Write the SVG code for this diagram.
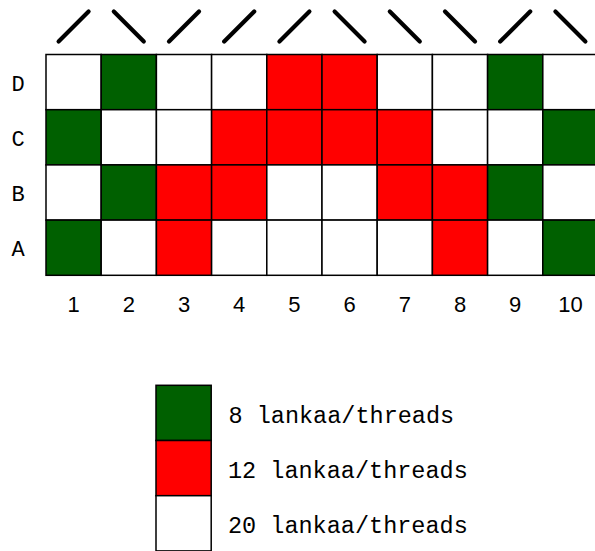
<svg xmlns="http://www.w3.org/2000/svg" width="595" height="551" viewBox="0 0 595 551">
<style>
.c{stroke:#000;stroke-width:1.5}
.w{fill:#fff}.g{fill:#006000}.r{fill:#ff0000}
.s{stroke:#000;stroke-width:4.2;stroke-linecap:round;fill:none}
.lbl{font-family:"Liberation Mono","DejaVu Sans Mono",monospace;font-size:22px;text-anchor:middle;fill:#000}
.num{font-family:"Liberation Sans","DejaVu Sans",sans-serif;font-size:22px;text-anchor:middle;fill:#000}
.leg{font-family:"Liberation Mono","DejaVu Sans Mono",monospace;font-size:23.5px;fill:#000}
</style>
<rect width="595" height="551" fill="#fff"/>
<g id="slashes">
<path class="s" d="M58.6,41.5L88.6,11.5"/>
<path class="s" d="M113.8,11.5L143.8,41.5"/>
<path class="s" d="M169,41.5L199,11.5"/>
<path class="s" d="M224.2,41.5L254.2,11.5"/>
<path class="s" d="M279.4,41.5L309.4,11.5"/>
<path class="s" d="M334.6,11.5L364.6,41.5"/>
<path class="s" d="M389.8,11.5L419.8,41.5"/>
<path class="s" d="M445,11.5L475,41.5"/>
<path class="s" d="M500.2,41.5L530.2,11.5"/>
<path class="s" d="M555.4,11.5L585.4,41.5"/>
</g>
<g id="rowD">
<rect class="c w" x="46" y="54.5" width="55.2" height="55.2"/>
<rect class="c g" x="101.2" y="54.5" width="55.2" height="55.2"/>
<rect class="c w" x="156.4" y="54.5" width="55.2" height="55.2"/>
<rect class="c w" x="211.6" y="54.5" width="55.2" height="55.2"/>
<rect class="c r" x="266.8" y="54.5" width="55.2" height="55.2"/>
<rect class="c r" x="322" y="54.5" width="55.2" height="55.2"/>
<rect class="c w" x="377.2" y="54.5" width="55.2" height="55.2"/>
<rect class="c w" x="432.4" y="54.5" width="55.2" height="55.2"/>
<rect class="c g" x="487.6" y="54.5" width="55.2" height="55.2"/>
<rect class="c w" x="542.8" y="54.5" width="55.2" height="55.2"/>
</g>
<g id="rowC">
<rect class="c g" x="46" y="109.7" width="55.2" height="55.2"/>
<rect class="c w" x="101.2" y="109.7" width="55.2" height="55.2"/>
<rect class="c w" x="156.4" y="109.7" width="55.2" height="55.2"/>
<rect class="c r" x="211.6" y="109.7" width="55.2" height="55.2"/>
<rect class="c r" x="266.8" y="109.7" width="55.2" height="55.2"/>
<rect class="c r" x="322" y="109.7" width="55.2" height="55.2"/>
<rect class="c r" x="377.2" y="109.7" width="55.2" height="55.2"/>
<rect class="c w" x="432.4" y="109.7" width="55.2" height="55.2"/>
<rect class="c w" x="487.6" y="109.7" width="55.2" height="55.2"/>
<rect class="c g" x="542.8" y="109.7" width="55.2" height="55.2"/>
</g>
<g id="rowB">
<rect class="c w" x="46" y="164.9" width="55.2" height="55.2"/>
<rect class="c g" x="101.2" y="164.9" width="55.2" height="55.2"/>
<rect class="c r" x="156.4" y="164.9" width="55.2" height="55.2"/>
<rect class="c r" x="211.6" y="164.9" width="55.2" height="55.2"/>
<rect class="c w" x="266.8" y="164.9" width="55.2" height="55.2"/>
<rect class="c w" x="322" y="164.9" width="55.2" height="55.2"/>
<rect class="c r" x="377.2" y="164.9" width="55.2" height="55.2"/>
<rect class="c r" x="432.4" y="164.9" width="55.2" height="55.2"/>
<rect class="c g" x="487.6" y="164.9" width="55.2" height="55.2"/>
<rect class="c w" x="542.8" y="164.9" width="55.2" height="55.2"/>
</g>
<g id="rowA">
<rect class="c g" x="46" y="220.1" width="55.2" height="55.2"/>
<rect class="c w" x="101.2" y="220.1" width="55.2" height="55.2"/>
<rect class="c r" x="156.4" y="220.1" width="55.2" height="55.2"/>
<rect class="c w" x="211.6" y="220.1" width="55.2" height="55.2"/>
<rect class="c w" x="266.8" y="220.1" width="55.2" height="55.2"/>
<rect class="c w" x="322" y="220.1" width="55.2" height="55.2"/>
<rect class="c w" x="377.2" y="220.1" width="55.2" height="55.2"/>
<rect class="c r" x="432.4" y="220.1" width="55.2" height="55.2"/>
<rect class="c w" x="487.6" y="220.1" width="55.2" height="55.2"/>
<rect class="c g" x="542.8" y="220.1" width="55.2" height="55.2"/>
</g>
<g id="rowLabels">
<text class="lbl" x="18" y="90.5">D</text>
<text class="lbl" x="18" y="145.7">C</text>
<text class="lbl" x="18" y="200.9">B</text>
<text class="lbl" x="18" y="256.1">A</text>
</g>
<g id="colLabels">
<text class="num" x="73.6" y="311.5">1</text>
<text class="num" x="128.8" y="311.5">2</text>
<text class="num" x="184" y="311.5">3</text>
<text class="num" x="239.2" y="311.5">4</text>
<text class="num" x="294.4" y="311.5">5</text>
<text class="num" x="349.6" y="311.5">6</text>
<text class="num" x="404.8" y="311.5">7</text>
<text class="num" x="460" y="311.5">8</text>
<text class="num" x="515.2" y="311.5">9</text>
<text class="num" x="570.4" y="311.5">10</text>
</g>
<g id="legend">
<rect class="c g" x="156" y="385.3" width="55.2" height="55.2"/>
<rect class="c r" x="156" y="440.5" width="55.2" height="55.2"/>
<rect class="c w" x="156" y="495.7" width="55.2" height="55.2"/>
<text class="leg" x="228.5" y="422.5">8 lankaa/threads</text>
<text class="leg" x="228" y="477.7">12 lankaa/threads</text>
<text class="leg" x="228" y="532.9">20 lankaa/threads</text>
</g>
</svg>
